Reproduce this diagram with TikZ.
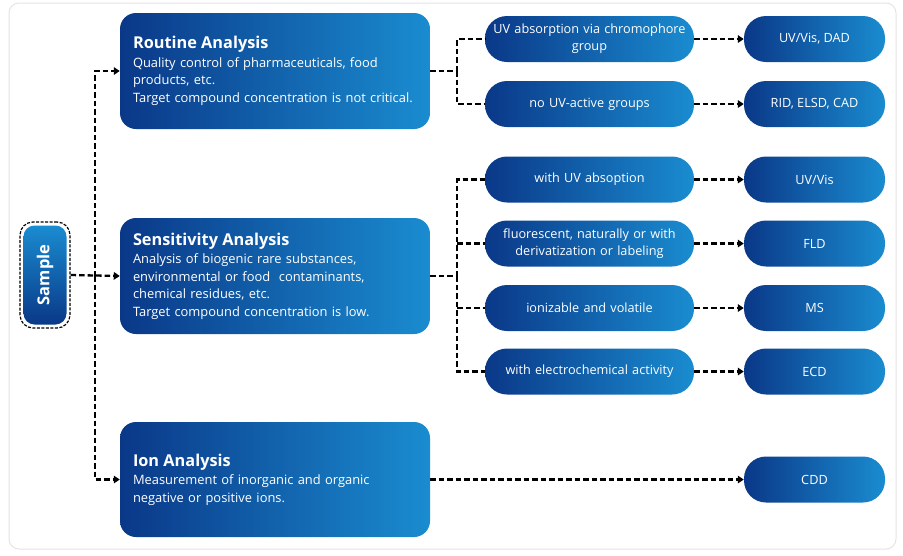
\documentclass[tikz,border=0pt]{standalone}
\usepackage{fontspec}
\setmainfont{Open Sans}
\usetikzlibrary{arrows.meta}
\definecolor{dkblue}{HTML}{0A3888}
\definecolor{ltblue}{HTML}{1A8CD0}
\definecolor{framegray}{HTML}{E4E4E4}
\tikzset{
  bigbox/.style={rounded corners=16pt, left color=dkblue, right color=ltblue, draw=none,
    minimum width=310pt, minimum height=116pt, text width=284pt, inner xsep=13pt,
    align=left, text=white, font=\fontsize{12.9}{17.5}\selectfont},
  pill/.style={rounded corners=22pt, left color=dkblue, right color=ltblue, draw=none,
    minimum height=46pt, text=white, align=center, font=\fontsize{12.7}{17}\selectfont, inner sep=2pt},
  midpill/.style={pill, minimum width=209pt, text width=205pt},
  endpill/.style={pill, minimum width=141pt},
  conn/.style={draw=black, line width=2.3pt, dash pattern=on 5.5pt off 3pt},
  arr/.style={conn, -{Triangle[length=6pt,width=7.5pt]}}
}
\newcommand{\bt}[1]{{\fontsize{16.3}{19}\selectfont\bfseries #1}\\[1pt]}
\begin{document}
\begin{tikzpicture}[x=1pt,y=-1pt]
\useasboundingbox (0,0) rectangle (903,555);
\draw[framegray, line width=1pt, rounded corners=10pt] (9,3) rectangle (896,549);

% sample
\node[draw=black, line width=1.2pt, dash pattern=on 3pt off 1.5pt, rounded corners=13pt,
  minimum width=50pt, minimum height=106pt] (sampleframe) at (45,275) {};
\node[rounded corners=11pt, top color=ltblue, bottom color=dkblue, minimum width=43pt, minimum height=99pt,
  text=white, font=\fontsize{16.5}{18}\selectfont\bfseries] (sample) at (45,275) {\rotatebox{90}{Sample}};

% big boxes
\node[bigbox] (routine) at (275,71) {\bt{Routine Analysis}Quality control of pharmaceuticals, food\\products, etc.\\Target compound concentration is not critical.};
\node[bigbox] (sens) at (275,276) {\bt{Sensitivity Analysis}Analysis of biogenic rare substances,\\environmental or food\ \ contaminants,\\chemical residues, etc.\\Target compound concentration is low.};
\node[bigbox, minimum height=115pt] (ion) at (275,479.5) {\bt{Ion Analysis}Measurement of inorganic and organic\\negative or positive ions.};

% middle pills
\node[midpill] (m1) at (589.5,39) {UV absorption via chromophore\\group};
\node[midpill] (m2) at (589.5,104) {no UV-active groups};
\node[midpill] (m3) at (589.5,179.5) {with UV absoption};
\node[midpill] (m4) at (589.5,243.5) {fluorescent, naturally or with\\derivatization or labeling};
\node[midpill] (m5) at (589.5,308) {ionizable and volatile};
\node[midpill] (m6) at (589.5,371.5) {with electrochemical activity};

% end pills
\node[endpill] (e1) at (814.5,39) {UV/Vis, DAD};
\node[endpill] (e2) at (814.5,104) {RID, ELSD, CAD};
\node[endpill] (e3) at (814.5,179.5) {UV/Vis};
\node[endpill] (e4) at (814.5,243.5) {FLD};
\node[endpill] (e5) at (814.5,308) {MS};
\node[endpill] (e6) at (814.5,371.5) {ECD};
\node[endpill] (e7) at (814.5,479.5) {CDD};

% connectors from sample
\coordinate (js) at (95,276);
\draw[arr] (sampleframe.east) -- (sens.west);
\draw[arr] (js) |- (routine.west);
\draw[arr] (js) |- (ion.west);

% routine branch
\coordinate (jr) at (457,71);
\draw[conn] (routine.east) -- (jr);
\draw[conn] (jr) |- (m1.west);
\draw[conn] (jr) |- (m2.west);

% sensitivity branch
\coordinate (jsn) at (457,276);
\draw[conn] (sens.east) -- (jsn);
\draw[conn] (jsn) |- (m3.west);
\draw[conn] (jsn) |- (m6.west);
\draw[conn] (jsn |- m4.west) -- (m4.west);
\draw[conn] (jsn |- m5.west) -- (m5.west);

% to end pills
\foreach \i in {1,...,6} { \draw[arr] (m\i.east) -- (e\i.west); }
\draw[arr] (ion.east) -- (e7.west);
\end{tikzpicture}
\end{document}
